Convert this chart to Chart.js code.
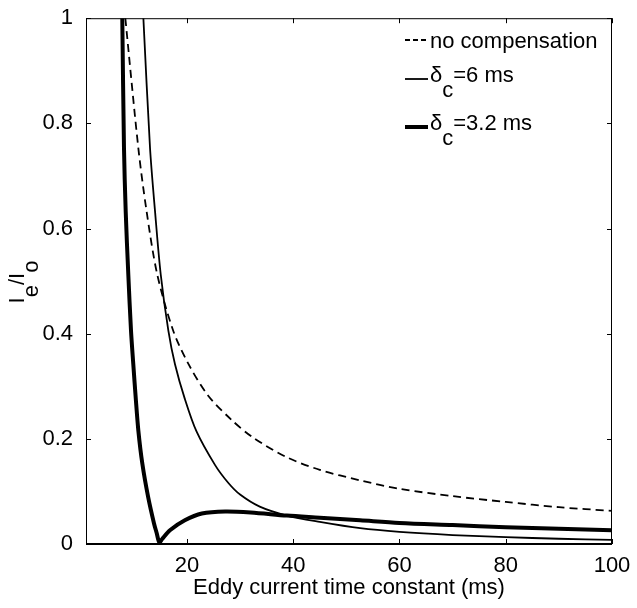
<!DOCTYPE html>
<html>
<head>
<meta charset="utf-8">
<script src="https://cdn.jsdelivr.net/npm/chart.js@4.4.1/dist/chart.umd.min.js"></script>
<style>
  html, body { margin: 0; padding: 0; background: #fff; }
</style>
</head>
<body>
<canvas id="grafico" width="637" height="608"></canvas>
<script>
// tick values
const xTicks = [20, 40, 60, 80, 100];
const yTicks = [0, 0.2, 0.4, 0.6, 0.8, 1];

// no compensation (dashed)
const noCompX = [8.4, 10.85, 12.4, 14.4, 17.4, 20.3, 24.0, 28.4, 32.5, 38.8, 45, 52.6, 60, 70, 80, 90, 100];
const noCompY = [1.0, 0.753, 0.633, 0.513, 0.406, 0.342, 0.282, 0.236, 0.202, 0.165, 0.141, 0.121, 0.105, 0.091, 0.080, 0.070, 0.063];

// delta_c = 6 ms (thin)
const comp6X = [11.8, 13.05, 13.99, 15.06, 16.5, 17.75, 19.6, 21.8, 25.3, 27.8, 30, 33.7, 38.8, 45, 52.6, 60, 70, 80, 90, 100];
const comp6Y = [1.0, 0.753, 0.633, 0.513, 0.406, 0.342, 0.276, 0.214, 0.150, 0.116, 0.094, 0.071, 0.054, 0.042, 0.030, 0.023, 0.017, 0.013, 0.010, 0.008];

// delta_c = 3.2 ms (thick)
const comp32X = [7.83, 8.15, 8.47, 8.96, 9.47, 9.9, 10.35, 10.85, 11.6, 12.7, 13.8, 14.3, 14.8, 15.3, 16.8, 19.6, 22.8, 27.2, 32, 38.8, 45, 52.6, 60, 70, 80, 90, 100];
const comp32Y = [1.0, 0.753, 0.633, 0.513, 0.406, 0.342, 0.279, 0.216, 0.153, 0.089, 0.039, 0.021, 0.003, 0.009, 0.026, 0.045, 0.058, 0.062, 0.060, 0.054, 0.050, 0.045, 0.040, 0.036, 0.032, 0.029, 0.026];

// "_" marks the next character as a subscript
const legendLabels = ['no compensation', 'δ_c=6 ms', 'δ_c=3.2 ms'];
const yTitle = 'I_e/I_o';
const xTitle = 'Eddy current time constant (ms)';

const FAMILY = '"Liberation Sans", Arial, Helvetica, sans-serif';
const FONT = '22px ' + FAMILY;

const toPoints = (xs, ys) => xs.map((x, i) => ({ x: x, y: ys[i] }));

// draws text with subscripts, returns width
function subText(ctx, str, x, y, shift, draw) {
  let pos = x;
  for (let i = 0; i < str.length; i++) {
    let ch = str[i], dy = 0;
    if (ch === '_') { ch = str[++i]; dy = shift; }
    if (draw) ctx.fillText(ch, pos, y + dy);
    pos += ctx.measureText(ch).width;
  }
  return pos - x;
}

const frame = {
  id: 'frame',
  afterDatasetsDraw(chart) {
    const { ctx, chartArea: a, scales: { x, y } } = chart;
    ctx.save();
    ctx.strokeStyle = '#000';
    ctx.lineWidth = 1;
    ctx.strokeRect(a.left + 0.5, a.top + 0.5, a.right - a.left - 1, a.bottom - a.top);
    ctx.lineWidth = 2;
    ctx.beginPath();
    ctx.moveTo(a.left, a.bottom);
    ctx.lineTo(a.right, a.bottom);
    ctx.stroke();

    // inward ticks
    ctx.lineWidth = 1;
    ctx.beginPath();
    x.ticks.forEach(t => {
      const px = Math.round(x.getPixelForValue(t.value)) + 0.5;
      ctx.moveTo(px, a.bottom); ctx.lineTo(px, a.bottom - 5);
      ctx.moveTo(px, a.top); ctx.lineTo(px, a.top + 5);
    });
    y.ticks.forEach(t => {
      const py = Math.round(y.getPixelForValue(t.value)) + 0.5;
      ctx.moveTo(a.left, py); ctx.lineTo(a.left + 5, py);
      ctx.moveTo(a.right, py); ctx.lineTo(a.right - 5, py);
    });
    ctx.stroke();

    // legend
    ctx.fillStyle = '#000';
    ctx.font = FONT;
    ctx.textBaseline = 'alphabetic';
    ctx.textAlign = 'left';
    const rows = [{ line: 40, base: 48 }, { line: 79, base: 82 }, { line: 127, base: 130 }];
    chart.data.datasets.forEach((ds, i) => {
      ctx.save();
      ctx.lineWidth = ds.borderWidth;
      ctx.setLineDash(ds.borderDash && ds.borderDash.length ? [5, 3] : []);
      ctx.beginPath();
      ctx.moveTo(405, rows[i].line);
      ctx.lineTo(428, rows[i].line);
      ctx.stroke();
      ctx.restore();
      subText(ctx, legendLabels[i], 430, rows[i].base, 15, true);
    });

    // y axis title
    ctx.save();
    ctx.translate(24, 282);
    ctx.rotate(-Math.PI / 2);
    const w = subText(ctx, yTitle, 0, 0, 14, false);
    subText(ctx, yTitle, -w / 2, 0, 14, true);
    ctx.restore();
    ctx.restore();
  }
};

const ctx = document.getElementById('grafico').getContext('2d');
new Chart(ctx, {
  type: 'line',
  data: {
    datasets: [
      { label: legendLabels[0], data: toPoints(noCompX, noCompY), borderColor: '#000', borderWidth: 1.8, borderDash: [8, 5] },
      { label: legendLabels[1], data: toPoints(comp6X, comp6Y), borderColor: '#000', borderWidth: 1.8 },
      { label: legendLabels[2], data: toPoints(comp32X, comp32Y), borderColor: '#000', borderWidth: 4 }
    ]
  },
  options: {
    responsive: false,
    animation: false,
    clip: 0,
    layout: { padding: { top: 17, right: 25, left: 0, bottom: 0 } },
    elements: {
      point: { radius: 0 },
      line: { tension: 0.3, fill: false }
    },
    plugins: { legend: { display: false }, tooltip: { enabled: false } },
    scales: {
      x: {
        type: 'linear',
        min: 1,
        max: 100,
        afterBuildTicks: s => { s.ticks = xTicks.map(v => ({ value: v })); },
        afterFit: s => { s.height = 64; },
        grid: { display: false },
        border: { display: false },
        ticks: { color: '#000', font: { family: FAMILY, size: 22 }, padding: 1, maxRotation: 0, autoSkip: false },
        title: { display: true, text: xTitle, color: '#000', font: { family: FAMILY, size: 22 }, padding: { top: 0, bottom: 7 } }
      },
      y: {
        type: 'linear',
        min: 0,
        max: 1,
        afterBuildTicks: s => { s.ticks = yTicks.map(v => ({ value: v })); },
        afterFit: s => { s.width = 86; },
        grid: { display: false },
        border: { display: false },
        ticks: { color: '#000', font: { family: FAMILY, size: 22 }, padding: 5, callback: v => String(+v.toFixed(1)) }
      }
    }
  },
  plugins: [frame]
});
</script>
</body>
</html>
